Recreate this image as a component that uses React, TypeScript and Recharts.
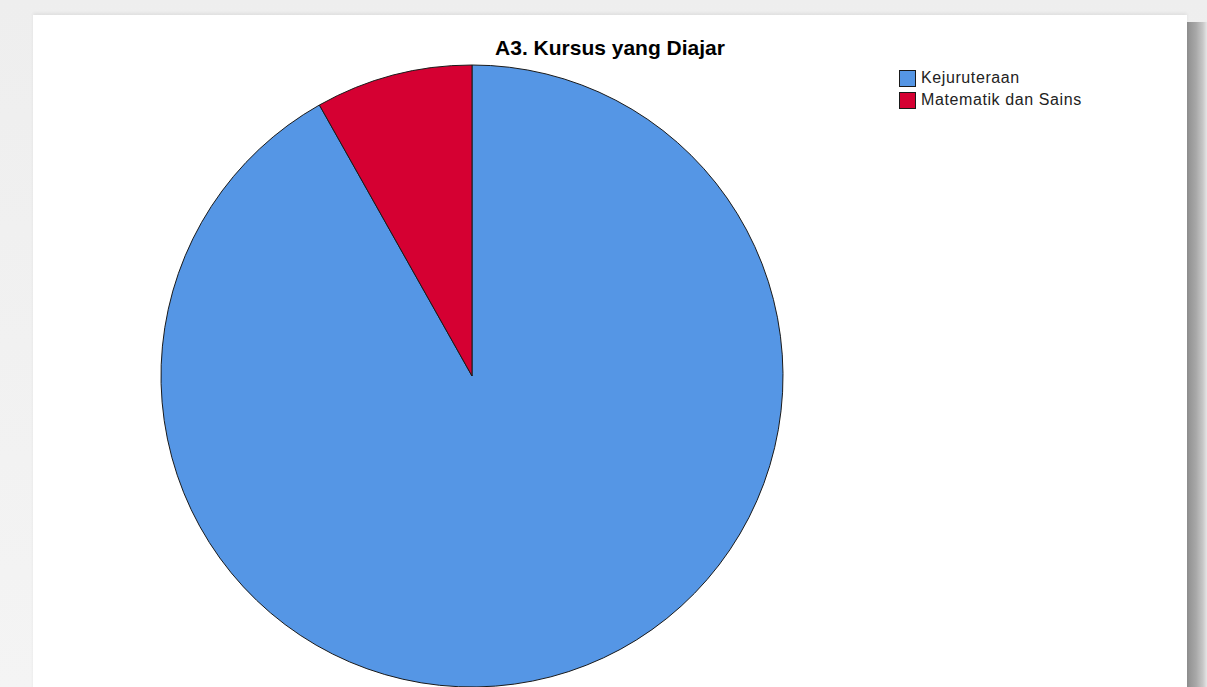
import { PieChart, Pie, Cell } from "recharts";

const CATEGORIES = ["Kejuruteraan", "Matematik dan Sains"];
const COUNTS = [45, 4];
const COLORS = ["#5596e5", "#d50032"];

const data = CATEGORIES.map((name, i) => ({ name, value: COUNTS[i] }));

export default function App() {
  return (
    <div
      style={{
        position: "absolute",
        left: 0,
        top: 0,
        width: 1207,
        height: 687,
        overflow: "hidden",
        background: "linear-gradient(#eeeeee, #f4f4f4)",
        fontFamily: "'Liberation Sans', Arial, sans-serif",
      }}
    >
      {/* right drop shadow */}
      <div
        style={{
          position: "absolute",
          left: 1187,
          top: 22,
          width: 20,
          height: 680,
          background: "linear-gradient(to right, #8f8f8f, #a8a8a8 45%, #c8c8c8 80%, #e6e6e6)",
        }}
      />
      {/* white panel */}
      <div
        style={{
          position: "absolute",
          left: 33,
          top: 15,
          width: 1154,
          height: 690,
          background: "#fff",
          boxShadow: "0 -2px 3px rgba(0,0,0,0.06)",
        }}
      />
      <div
        style={{
          position: "absolute",
          left: 33,
          width: 1154,
          top: 36,
          textAlign: "center",
          fontWeight: "bold",
          fontSize: 21,
          color: "#000",
        }}
      >
        A3. Kursus yang Diajar
      </div>
      <div style={{ position: "absolute", left: 0, top: 0 }}>
        <PieChart width={1207} height={687} margin={{ top: 0, right: 0, bottom: 0, left: 0 }}>
          <Pie
            data={data}
            dataKey="value"
            nameKey="name"
            cx={472}
            cy={376}
            outerRadius={311}
            startAngle={90}
            endAngle={-270}
            stroke="#1a1a1a"
            strokeWidth={1}
            isAnimationActive={false}
          >
            {data.map((d, i) => (
              <Cell key={d.name} fill={COLORS[i]} />
            ))}
          </Pie>
        </PieChart>
      </div>
      <div style={{ position: "absolute", left: 899, top: 67 }}>
        {data.map((d, i) => (
          <div
            key={d.name}
            style={{
              display: "flex",
              alignItems: "center",
              height: 22,
              fontSize: 16,
              letterSpacing: 0.6,
              color: "#222",
            }}
          >
            <span
              style={{
                display: "inline-block",
                width: 17,
                height: 17,
                boxSizing: "border-box",
                border: "1px solid #1a1a1a",
                background: COLORS[i],
                marginRight: 5,
              }}
            />
            {d.name}
          </div>
        ))}
      </div>
    </div>
  );
}
